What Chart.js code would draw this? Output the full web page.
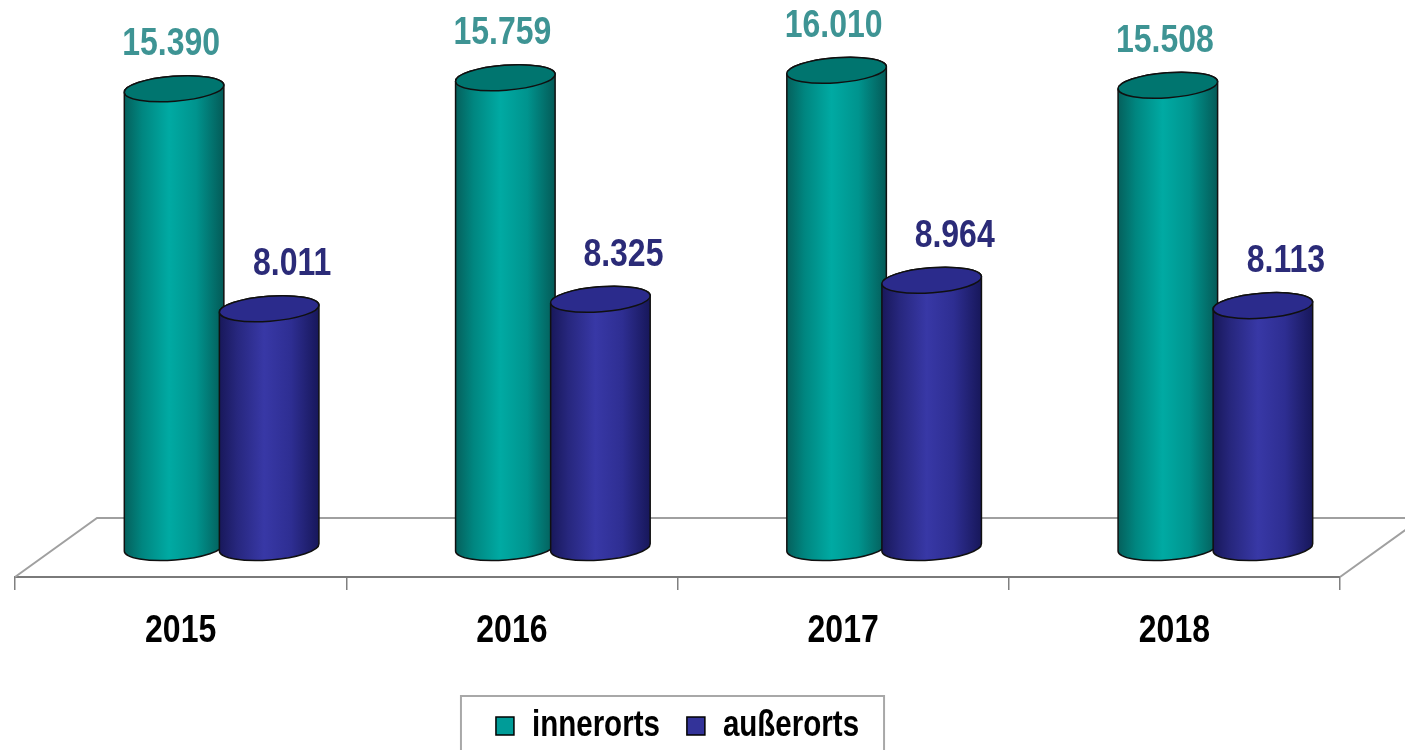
<!DOCTYPE html>
<html>
<head>
<meta charset="utf-8">
<script src="https://cdn.jsdelivr.net/npm/chart.js@4"></script>
<style>
html,body{margin:0;padding:0;background:#fff;overflow:hidden;}
#c{display:block;}
</style>
</head>
<body>
<canvas id="c" width="1405" height="750"></canvas>
<script>
const categories = ['2015', '2016', '2017', '2018'];
const innerorts = [15390, 15759, 16010, 15508];
const ausserorts = [8011, 8325, 8964, 8113];
const seriesNames = ['innerorts', 'außerorts'];

const FONT = "'Liberation Sans', Arial, sans-serif";
const NARROW = 0.82;                    // condense like Arial Narrow
const DEPTH_X = 41, DEPTH_Y = -29.5;   // half-depth projection of the 3D floor

// condensed text rendering on the canvas context (Arial Narrow look-alike)
const canvas = document.getElementById('c');
const ctx2d = canvas.getContext('2d');
const origFill = ctx2d.fillText.bind(ctx2d);
const origMeasure = ctx2d.measureText.bind(ctx2d);
ctx2d.fillText = function (t, x, y, mw) {
  if (this.font.indexOf('Liberation Sans') >= 0) {
    this.save();
    this.translate(x, y);
    this.scale(NARROW, 1);
    origFill(t, 0, 0);
    this.restore();
  } else {
    origFill(t, x, y, mw);
  }
};
ctx2d.measureText = function (t) {
  const m = origMeasure(t);
  if (this.font.indexOf('Liberation Sans') >= 0) {
    return {
      width: m.width * NARROW,
      actualBoundingBoxAscent: m.actualBoundingBoxAscent,
      actualBoundingBoxDescent: m.actualBoundingBoxDescent,
      actualBoundingBoxLeft: m.actualBoundingBoxLeft * NARROW,
      actualBoundingBoxRight: m.actualBoundingBoxRight * NARROW
    };
  }
  return m;
};

function fmt(v) {
  return String(v).replace(/\B(?=(\d{3})+(?!\d))/g, '.');
}

const styles = [
  { stops: [[0,'#05605c'],[0.18,'#008680'],[0.45,'#00aaa3'],[0.72,'#00948e'],[1,'#045a57']], top: '#00756f', label: '#3e9494', dx: -3 },
  { stops: [[0,'#18185a'],[0.18,'#27277e'],[0.45,'#3838a6'],[0.72,'#2e2e92'],[1,'#17175a']], top: '#2b2b8c', label: '#2b2b78', dx: 23 }
];

function cylinder(ctx, cx, top, base, w, st) {
  const rx = w / 2, ry = 12.5, r = -0.075;
  const cr = Math.cos(r), sr = Math.sin(r);
  const g = ctx.createLinearGradient(cx - rx, 0, cx + rx, 0);
  st.stops.forEach(s => g.addColorStop(s[0], s[1]));
  ctx.save();
  ctx.beginPath();
  ctx.moveTo(cx - rx * cr, top - rx * sr);
  ctx.lineTo(cx - rx * cr, base - rx * sr);
  ctx.ellipse(cx, base, rx, ry, r, Math.PI, 0, true);
  ctx.lineTo(cx + rx * cr, top + rx * sr);
  ctx.ellipse(cx, top, rx, ry, r, 0, -Math.PI, true);
  ctx.closePath();
  ctx.fillStyle = g;
  ctx.fill();
  ctx.lineWidth = 1.5;
  ctx.strokeStyle = '#101010';
  ctx.stroke();
  ctx.beginPath();
  ctx.ellipse(cx, top, rx, ry, r, 0, Math.PI * 2);
  ctx.fillStyle = st.top;
  ctx.fill();
  ctx.stroke();
  ctx.restore();
}

const floorPlugin = {
  id: 'floor',
  beforeDatasetsDraw(chart) {
    const { ctx, chartArea: a } = chart;
    const bx = 2 * DEPTH_X, by = 2 * DEPTH_Y;
    ctx.save();
    ctx.strokeStyle = '#a0a0a0';
    ctx.lineWidth = 2;
    ctx.beginPath();
    ctx.moveTo(a.left, a.bottom);
    ctx.lineTo(a.left + bx, a.bottom + by);
    ctx.lineTo(a.right + bx, a.bottom + by);
    ctx.moveTo(a.right, a.bottom);
    ctx.lineTo(a.right + bx, a.bottom + by);
    ctx.stroke();
    ctx.restore();
  },
  beforeDatasetDraw() { return false; },
  afterDatasetsDraw(chart) {
    const { ctx } = chart;
    chart.data.datasets.forEach((ds, di) => {
      const meta = chart.getDatasetMeta(di);
      const st = styles[di];
      meta.data.forEach((el, i) => {
        const p = el.getProps(['x', 'y', 'base', 'width'], true);
        const cx = p.x + DEPTH_X;
        const top = p.y + DEPTH_Y;
        const base = p.base + DEPTH_Y;
        cylinder(ctx, cx, top, base, p.width, st);
        ctx.save();
        ctx.font = 'bold 39px ' + FONT;
        ctx.fillStyle = st.label;
        ctx.textAlign = 'center';
        ctx.textBaseline = 'middle';
        ctx.fillText(fmt(ds.data[i]), cx + st.dx, top - 44);
        ctx.restore();
      });
    });
  },
  afterDraw(chart) {
    const lg = chart.legend;
    if (!lg || !lg.legendHitBoxes || !lg.legendHitBoxes.length) return;
    const hb = lg.legendHitBoxes;
    const l = hb[0].left - 35, r = hb[hb.length - 1].left + hb[hb.length - 1].width + 25;
    const t = hb[0].top + hb[0].height / 2 - 30;
    const { ctx } = chart;
    ctx.save();
    ctx.strokeStyle = '#a8a8a8';
    ctx.lineWidth = 2;
    ctx.strokeRect(l, t, r - l, 120);
    ctx.restore();
  }
};

new Chart(canvas, {
  type: 'bar',
  data: {
    labels: categories,
    datasets: [
      { label: seriesNames[0], data: innerorts, backgroundColor: '#009c98', borderColor: '#000', borderWidth: 1.5 },
      { label: seriesNames[1], data: ausserorts, backgroundColor: '#333399', borderColor: '#000', borderWidth: 1.5 }
    ]
  },
  options: {
    responsive: false,
    animation: false,
    devicePixelRatio: 1,
    categoryPercentage: 0.574,
    barPercentage: 1.05,
    layout: { padding: { top: 40.4, left: 15, right: 65, bottom: -4 } },
    scales: {
      x: {
        grid: { display: true, drawOnChartArea: false, tickLength: 13, color: '#808080', lineWidth: 1.5 },
        border: { display: true, color: '#7a7a7a', width: 2 },
        ticks: { color: '#000', padding: 18, font: { family: FONT, size: 39, weight: 'bold' } },
        afterFit(s) { s.height = 104; }
      },
      y: { display: false, min: 0, max: 18000 }
    },
    plugins: {
      legend: {
        position: 'bottom',
        labels: { color: '#000', boxWidth: 18, boxHeight: 18, padding: 27, font: { family: FONT, size: 36, weight: 'bold' } }
      },
      tooltip: { enabled: false }
    }
  },
  plugins: [floorPlugin]
});
</script>
</body>
</html>
